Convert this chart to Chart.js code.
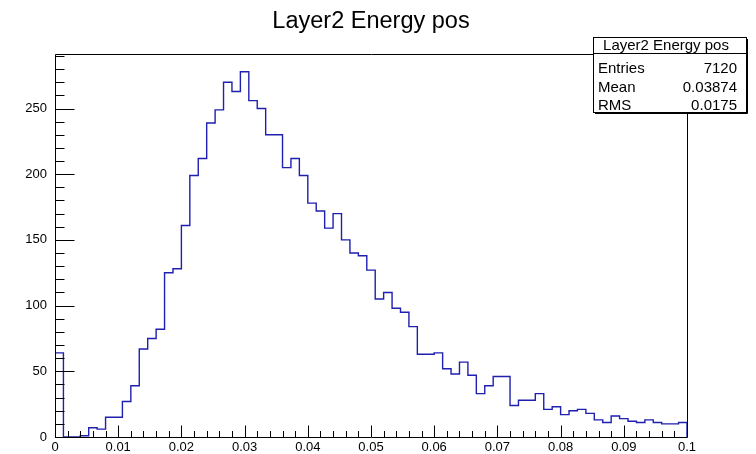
<!DOCTYPE html>
<html>
<head>
<meta charset="utf-8">
<script src="https://cdn.jsdelivr.net/npm/chart.js@4.4.1/dist/chart.umd.min.js"></script>
<style>
  html, body { margin: 0; padding: 0; background: #ffffff; }
  #wrap { width: 756px; height: 454px; position: relative; }
</style>
</head>
<body>
<div id="wrap"><canvas id="c" width="756" height="454"></canvas></div>
<script>
// ---- data ----
const histTitle = "Layer2 Energy pos";
const binLow = 0;
const binHigh = 0.1;
const binCounts = [
  64, 0, 0, 1, 7, 6, 15, 15, 27, 39, 67, 75, 82,
  125, 128, 161, 199, 212, 239, 249, 270, 263, 278, 256, 250,
  230, 230, 205, 212, 199, 178, 172, 159, 170, 150, 140, 138, 127,
  105, 110, 98, 95, 84, 63, 63, 64, 52, 48, 57, 47,
  33, 39, 46, 46, 24, 28, 28, 33, 21, 23, 17, 20, 21, 18,
  13, 11, 16, 14, 12, 11, 13, 11, 10, 10, 11
];
const xTickValues = [0, 0.01, 0.02, 0.03, 0.04, 0.05, 0.06, 0.07, 0.08, 0.09, 0.1];
const xTickLabels = ["0", "0.01", "0.02", "0.03", "0.04", "0.05", "0.06", "0.07", "0.08", "0.09", "0.1"];
const yTickValues = [0, 50, 100, 150, 200, 250];
const yTickLabels = ["0", "50", "100", "150", "200", "250"];
const xMinorStep = 0.002;
const yMinorStep = 10;
const yMax = 291.5;
const statsLabels = ["Entries", "Mean", "RMS"];
const statsValues = ["7120", "0.03874", "0.0175"];

// ---- build step outline from bins ----
const nBins = binCounts.length;
const binWidth = (binHigh - binLow) / nBins;
const points = [{ x: binLow, y: 0 }];
binCounts.forEach((c, i) => points.push({ x: binLow + i * binWidth, y: c }));
points.push({ x: binHigh, y: binCounts[nBins - 1] });
points.push({ x: binHigh, y: 0 });

const FONT = "'Liberation Sans', Arial, Helvetica, sans-serif";

const rootFrame = {
  id: 'rootFrame',
  afterDatasetsDraw(chart) {
    const { ctx, chartArea: a, scales } = chart;
    const xs = scales.x, ys = scales.y;
    ctx.save();
    ctx.strokeStyle = '#000000';
    ctx.lineWidth = 1;
    ctx.beginPath();
    ctx.rect(Math.round(a.left) + 0.5, Math.round(a.top) + 0.5,
             Math.round(a.right - a.left), Math.round(a.bottom - a.top));
    const xMaj = 11.5, xMin = 6;
    const nX = Math.round((binHigh - binLow) / xMinorStep);
    for (let k = 0; k <= nX; k++) {
      const v = binLow + k * xMinorStep;
      const px = Math.round(xs.getPixelForValue(v)) + 0.5;
      const isMaj = xTickValues.some(t => Math.abs(t - v) < 1e-9);
      ctx.moveTo(px, a.bottom);
      ctx.lineTo(px, a.bottom - (isMaj ? xMaj : xMin));
    }
    const yMaj = 19.5, yMin = 9.5;
    for (let v = 0; v <= yMax; v += yMinorStep) {
      const py = Math.round(ys.getPixelForValue(v)) + 0.5;
      const isMaj = yTickValues.includes(v);
      ctx.moveTo(a.left, py);
      ctx.lineTo(a.left + (isMaj ? yMaj : yMin), py);
    }
    ctx.stroke();
    ctx.restore();
  },
  afterDraw(chart) {
    const ctx = chart.ctx;
    const L = 593, T = 37, R = 747, B = 113, H = 53.5;
    ctx.save();
    ctx.fillStyle = '#ffffff';
    ctx.fillRect(L, T, R - L, B - T);
    ctx.strokeStyle = '#000000';
    ctx.lineWidth = 1;
    ctx.strokeRect(L + 0.5, T + 0.5, R - L - 1, B - T - 1);
    ctx.beginPath();
    ctx.moveTo(R + 0.5, T + 2); ctx.lineTo(R + 0.5, B + 0.5); ctx.lineTo(L + 2, B + 0.5);
    ctx.stroke();
    ctx.beginPath();
    ctx.moveTo(L, H); ctx.lineTo(R, H);
    ctx.stroke();
    ctx.fillStyle = '#000000';
    ctx.font = '15px ' + FONT;
    ctx.textBaseline = 'alphabetic';
    ctx.textAlign = 'center';
    ctx.fillText(histTitle, 666, 50);
    const rowBase = [72.5, 91.5, 110];
    statsLabels.forEach((lab, i) => {
      ctx.textAlign = 'left';
      ctx.fillText(lab, 598, rowBase[i]);
      ctx.textAlign = 'right';
      ctx.fillText(statsValues[i], 737, rowBase[i]);
    });
    ctx.restore();
  }
};

new Chart(document.getElementById('c'), {
  type: 'line',
  data: {
    datasets: [{
      label: histTitle,
      data: points,
      stepped: 'before',
      borderColor: '#1f1fb0',
      borderWidth: 1.4,
      pointRadius: 0,
      fill: false,
      tension: 0
    }]
  },
  options: {
    responsive: false,
    animation: false,
    devicePixelRatio: 1,
    layout: { padding: { left: 0, right: 69, top: 0, bottom: 0 } },
    plugins: {
      legend: { display: false },
      tooltip: { enabled: false },
      title: {
        display: true,
        text: histTitle,
        fullSize: false,
        color: '#000000',
        font: { family: FONT, size: 23.5, weight: 'normal' },
        padding: { top: 7, bottom: 18.8 }
      }
    },
    scales: {
      x: {
        type: 'linear',
        min: binLow,
        max: binHigh,
        grid: { display: false, drawTicks: false },
        border: { display: false },
        afterBuildTicks: (s) => { s.ticks = xTickValues.map(v => ({ value: v })); },
        afterFit: (s) => { s.height = 17; },
        ticks: {
          color: '#000000',
          padding: 3,
          maxRotation: 0,
          autoSkip: false,
          font: { family: FONT, size: 13 },
          callback: (v, i) => xTickLabels[i]
        }
      },
      y: {
        type: 'linear',
        min: 0,
        max: yMax,
        grid: { display: false, drawTicks: false },
        border: { display: false },
        afterBuildTicks: (s) => { s.ticks = yTickValues.map(v => ({ value: v })); },
        afterFit: (s) => { s.width = 55; },
        ticks: {
          color: '#000000',
          padding: 8,
          autoSkip: false,
          font: { family: FONT, size: 13 },
          callback: (v, i) => yTickLabels[i]
        }
      }
    }
  },
  plugins: [rootFrame]
});
</script>
</body>
</html>
